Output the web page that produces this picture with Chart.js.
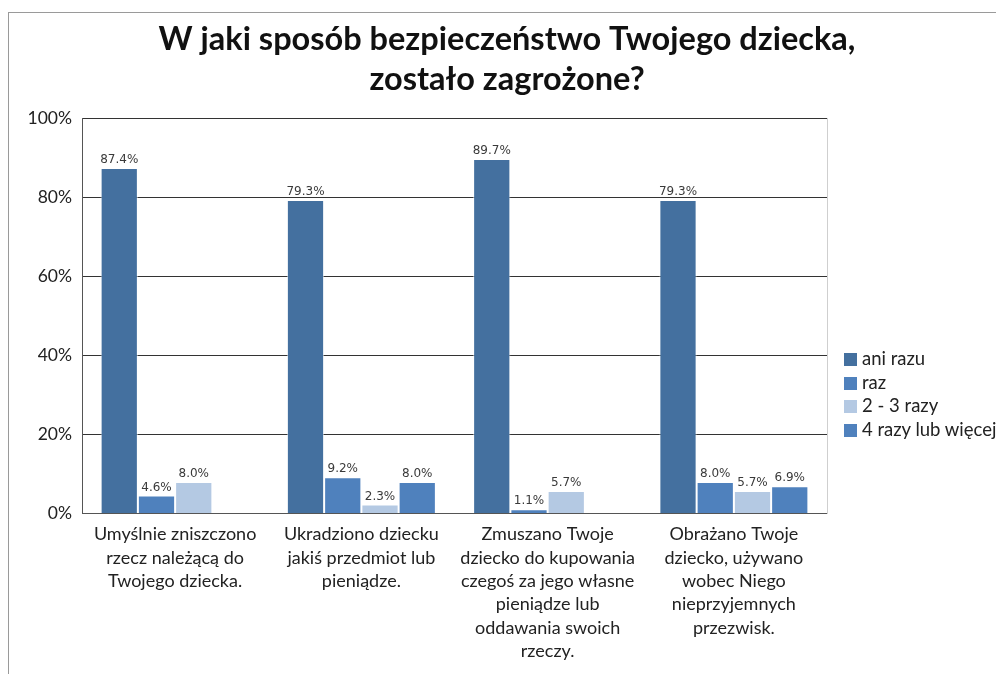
<!DOCTYPE html>
<html>
<head>
<meta charset="UTF-8">
<title>Bezpieczeństwo dziecka</title>
<script src="https://cdn.jsdelivr.net/npm/chart.js@4.4.1/dist/chart.umd.min.js"></script>
<style>
  body { margin: 0; background: #fff; }
  .wrap { position: relative; width: 996px; height: 674px; }
  .frame {
    position: absolute; left: 8px; top: 12px; width: 988px; height: 662px;
    border-top: 1px solid #9a9a9a; border-left: 1px solid #9a9a9a;
  }
  canvas { position: absolute; left: 0; top: 0; }
  #legend {
    position: absolute; left: 844px; top: 347px;
    font: 18.5px Lato, sans-serif; color: #222;
  }
  #legend div { height: 23.5px; line-height: 23.5px; white-space: nowrap; }
  #legend span {
    display: inline-block; width: 13px; height: 13px; margin-right: 5px;
    vertical-align: -1px;
  }
</style>
</head>
<body>
<div class="wrap">
  <div class="frame"></div>
  <canvas id="myChart" width="996" height="674"></canvas>
  <div id="legend"></div>
</div>
<script>
const categories = [
  ['Umyślnie zniszczono', 'rzecz należącą do', 'Twojego dziecka.'],
  ['Ukradziono dziecku', 'jakiś przedmiot lub', 'pieniądze.'],
  ['Zmuszano Twoje', 'dziecko do kupowania', 'czegoś za jego własne', 'pieniądze lub', 'oddawania swoich', 'rzeczy.'],
  ['Obrażano Twoje', 'dziecko, używano', 'wobec Niego', 'nieprzyjemnych', 'przezwisk.']
];
const seriesNames = ['ani razu', 'raz', '2 - 3 razy', '4 razy lub więcej'];
const aniRazu = [87.4, 79.3, 89.7, 79.3];
const raz = [4.6, 9.2, 1.1, 8.0];
const dwaTrzy = [8.0, 2.3, 5.7, 5.7];
const czteryWiecej = [null, 8.0, null, 6.9];
const colors = ['#44709f', '#4f81bd', '#b4c9e3', '#4f81bd'];
const yTicks = [0, 20, 40, 60, 80, 100];

const values = [aniRazu, raz, dwaTrzy, czteryWiecej];

// value labels above each bar
const barLabels = {
  id: 'barLabels',
  afterDatasetsDraw(chart) {
    const ctx = chart.ctx;
    ctx.save();
    ctx.font = '12px "DejaVu Sans", sans-serif';
    ctx.fillStyle = '#3a3a3a';
    ctx.textAlign = 'center';
    ctx.textBaseline = 'bottom';
    chart.data.datasets.forEach((ds, i) => {
      chart.getDatasetMeta(i).data.forEach((bar, j) => {
        const v = ds.data[j];
        if (v == null) return;
        ctx.fillText(v.toFixed(1) + '%', bar.x, bar.y - 2);
      });
    });
    ctx.restore();
  }
};

const ctx = document.getElementById('myChart').getContext('2d');
const myChart = new Chart(ctx, {
  type: 'bar',
  data: {
    labels: categories,
    datasets: seriesNames.map((name, i) => ({
      label: name,
      data: values[i],
      backgroundColor: colors[i],
      borderColor: 'rgba(255,255,255,0.55)',
      borderWidth: 1,
      barPercentage: 1,
      categoryPercentage: 0.8
    }))
  },
  options: {
    responsive: false,
    animation: false,
    layout: { padding: { left: 20, right: 2, top: 0, bottom: 2 } },
    scales: {
      x: {
        grid: { display: false, drawTicks: false },
        border: { color: '#555', width: 1 },
        ticks: {
          autoSkip: false,
          maxRotation: 0,
          padding: 9,
          color: '#222',
          font: { family: 'Lato', size: 18, lineHeight: 1.3 }
        }
      },
      y: {
        min: 0,
        max: 100,
        afterFit: (s) => { s.width = 62; },
        afterBuildTicks: (s) => { s.ticks = yTicks.map(v => ({ value: v })); },
        grid: { color: '#333', drawTicks: false },
        border: { color: '#555', width: 1 },
        ticks: {
          padding: 10,
          color: '#222',
          font: { family: 'Lato', size: 17.5 },
          callback: (v) => v + '%'
        }
      },
      y2: {
        position: 'right',
        min: 0,
        max: 100,
        afterFit: (s) => { s.width = 167; },
        grid: { display: false, drawTicks: false },
        border: { color: '#cfcfcf', width: 1 },
        ticks: { display: false }
      }
    },
    plugins: {
      legend: { display: false },
      tooltip: { enabled: false },
      title: {
        display: true,
        text: ['W jaki sposób bezpieczeństwo Twojego dziecka,', 'zostało zagrożone?'],
        color: '#111',
        font: { family: 'Lato', size: 32.5, weight: 'bold', lineHeight: 1.25 },
        padding: { top: 19, bottom: 18 }
      }
    }
  },
  plugins: [barLabels]
});

// legend built from the datasets
const legend = document.getElementById('legend');
myChart.data.datasets.forEach(ds => {
  const row = document.createElement('div');
  const sw = document.createElement('span');
  sw.style.background = ds.backgroundColor;
  row.appendChild(sw);
  row.appendChild(document.createTextNode(ds.label));
  legend.appendChild(row);
});
</script>
</body>
</html>
